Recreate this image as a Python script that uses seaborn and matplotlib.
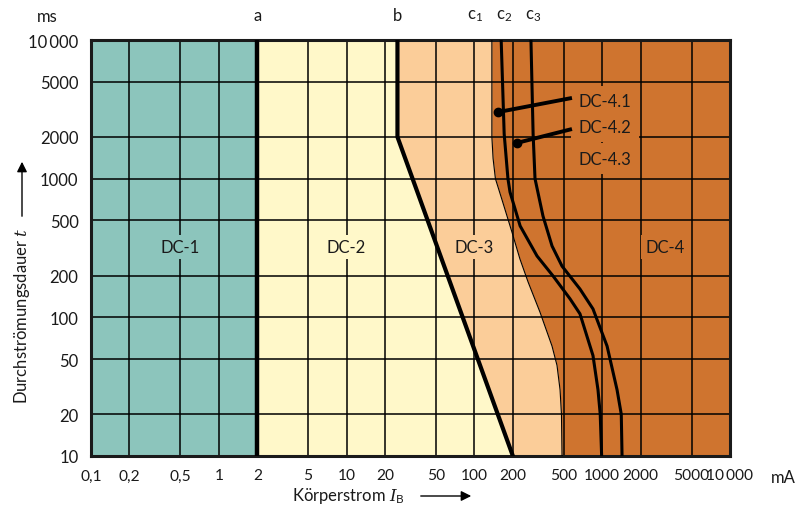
"""
Zeit-Strom-Bereiche für Gleichstrom (DC-1 bis DC-4), nachgezeichnet mit Seaborn.
"""
import matplotlib
matplotlib.use("Agg")
import matplotlib.pyplot as plt
import seaborn as sns

# Grenzkurven: Körperstrom in mA gegen Durchströmungsdauer in ms
grenze_a_mA = 2
kurve_b_mA = [25, 25, 200]
kurve_b_ms = [10000, 2000, 10]
kurve_c1_mA = [137, 137, 140, 146, 164, 197, 227, 263, 326, 405, 443, 468, 480, 485]
kurve_c1_ms = [10000, 2000, 1400, 1000, 710, 410, 264, 180, 109, 62, 45, 30, 20, 10]
kurve_c2_mA = [162, 171, 183, 190, 228, 309, 412, 560, 670, 847, 927, 965, 990]
kurve_c2_ms = [10000, 2100, 1000, 800, 456, 277, 199, 136, 106, 53, 30, 20, 10]
kurve_c3_mA = [277, 288, 298, 344, 405, 485, 670, 847, 1092, 1307, 1410, 1430]
kurve_c3_ms = [10000, 2100, 1000, 538, 327, 234, 160, 115, 62, 30, 20, 10]

x_ticks = [0.1, 0.2, 0.5, 1, 2, 5, 10, 20, 50, 100, 200, 500, 1000, 2000, 5000, 10000]
x_labels = ["0,1", "0,2", "0,5", "1", "2", "5", "10", "20", "50", "100", "200",
            "500", "1000", "2000", "5000", "10\u2009000"]
y_ticks = [10, 20, 50, 100, 200, 500, 1000, 2000, 5000, 10000]
y_labels = ["10", "20", "50", "100", "200", "500", "1000", "2000", "5000", "10\u2009000"]

# Bereichsnamen und ihre Lage im Diagramm
zonen_namen = ["DC-1", "DC-2", "DC-3", "DC-4"]
zonen_x = [0.5, 10, 100, 3100]
zonen_y = [320, 320, 320, 320]
unter_namen = ["DC-4.1", "DC-4.2", "DC-4.3"]
unter_x = [1050, 1050, 1050]
unter_y = [3630, 2360, 1390]
# Hinweislinien: Punkt auf der Kurve -> Beschriftung
hinweis_start = [(153, 3020), (215, 1810)]
hinweis_ende = [(580, 3820), (580, 2280)]

kurven_namen = ["a", "b", "c$_\\mathregular{1}$", "c$_\\mathregular{2}$", "c$_\\mathregular{3}$"]
kurven_label_x = [2, 25, 101, 171, 288]

farbe_dc1 = "#8cc5bc"
farbe_dc2 = "#fff8c9"
farbe_dc3 = "#fbcd99"
farbe_dc4 = "#cf742f"
schrift = "#1a1a1a"
fs = 12

sns.set_theme(style="white")
plt.rcParams["font.family"] = ["Lato", "DejaVu Sans"]
plt.rcParams["mathtext.fontset"] = "custom"
plt.rcParams["mathtext.it"] = "DejaVu Serif:italic"
plt.rcParams["mathtext.rm"] = "Lato"

fig = plt.figure(figsize=(8.08, 5.06), dpi=100)
ax = fig.add_axes([91 / 808, 1 - 457 / 506, (730 - 91) / 808, (457 - 41) / 506])
ax.set_xscale("log")
ax.set_yscale("log")
ax.set_xlim(0.1, 10000)
ax.set_ylim(10, 10000)

# Flächen von rechts nach links übereinander legen
ax.axvspan(0.1, 10000, color=farbe_dc4, zorder=0.1, lw=0)
ax.fill_betweenx(kurve_c1_ms, 0.1, kurve_c1_mA, color=farbe_dc3, zorder=0.2, lw=0)
ax.fill_betweenx(kurve_b_ms, 0.1, kurve_b_mA, color=farbe_dc2, zorder=0.3, lw=0)
ax.axvspan(0.1, grenze_a_mA, color=farbe_dc1, zorder=0.4, lw=0)

ax.set_xticks(x_ticks)
ax.set_xticklabels(x_labels)
ax.set_yticks(y_ticks)
ax.set_yticklabels(y_labels)
ax.minorticks_off()
ax.tick_params(length=0, labelsize=fs, colors=schrift)
ax.tick_params(axis="x", pad=9, labelsize=11.2)
ax.tick_params(axis="y", pad=9)
ax.grid(True, color="black", lw=1.1)
ax.set_axisbelow(True)
for s in ax.spines.values():
    s.set_visible(True)
    s.set_color(schrift)
    s.set_linewidth(2.2)

# Grenzkurven
ax.axvline(grenze_a_mA, color="black", lw=3.2, zorder=3)
sns.lineplot(x=kurve_b_mA, y=kurve_b_ms, sort=False, estimator=None, color="black", lw=3.0, ax=ax, zorder=3)
sns.lineplot(x=kurve_c1_mA, y=kurve_c1_ms, sort=False, estimator=None, color="black", lw=0.8, ax=ax, zorder=3)
sns.lineplot(x=kurve_c2_mA, y=kurve_c2_ms, sort=False, estimator=None, color="black", lw=2.2, ax=ax, zorder=3)
sns.lineplot(x=kurve_c3_mA, y=kurve_c3_ms, sort=False, estimator=None, color="black", lw=2.2, ax=ax, zorder=3)

# Bereichsbeschriftungen mit Hintergrund, damit das Gitter dort ausgespart ist
zonen_farben = [farbe_dc1, farbe_dc2, farbe_dc3, farbe_dc4]
for name, x, y, f in zip(zonen_namen, zonen_x, zonen_y, zonen_farben):
    ax.text(x, y, name, ha="center", va="center", fontsize=fs, color=schrift, zorder=4,
            bbox=dict(boxstyle="square,pad=0.25", fc=f, ec="none"))
for name, x, y in zip(unter_namen, unter_x, unter_y):
    ax.text(x, y, name, ha="center", va="center", fontsize=fs, color=schrift, zorder=4,
            bbox=dict(boxstyle="square,pad=0.45", fc=farbe_dc4, ec="none"))
for (x0, y0), (x1, y1) in zip(hinweis_start, hinweis_ende):
    ax.plot([x0, x1], [y0, y1], color="black", lw=2.8, zorder=5, solid_capstyle="butt")
    ax.plot([x0], [y0], "o", color="black", ms=6, zorder=5)

# Kurvenbezeichnungen über dem Diagramm
for name, x in zip(kurven_namen, kurven_label_x):
    ax.text(x, 1.04, name, transform=ax.get_xaxis_transform(), ha="center", va="bottom",
            fontsize=fs, color=schrift)

fig.text(47 / 808, 1 - 17 / 506, "ms", ha="center", va="center", fontsize=fs, color=schrift)
fig.text(783 / 808, 1 - 478 / 506, "mA", ha="center", va="center", fontsize=fs, color=schrift)

# Achsenbeschriftungen mit Pfeilen
fig.text(22 / 808, 1 - 316 / 506, "Durchströmungsdauer $t$", rotation=90, ha="center", va="center",
         fontsize=fs, color=schrift)
fig.text(348 / 808, 1 - 496 / 506, "Körperstrom $I_\\mathrm{B}$", ha="center", va="center",
         fontsize=fs, color=schrift)
fig.add_artist(matplotlib.patches.FancyArrowPatch(
    (22 / 808, 1 - 220 / 506), (22 / 808, 1 - 160 / 506), transform=fig.transFigure,
    arrowstyle="-|>,head_length=6,head_width=3", color="black", lw=1))
fig.add_artist(matplotlib.patches.FancyArrowPatch(
    (418 / 808, 1 - 497 / 506), (474 / 808, 1 - 497 / 506), transform=fig.transFigure,
    arrowstyle="-|>,head_length=6,head_width=3", color="black", lw=1))

fig.savefig("out.png", dpi=100)
plt.close(fig)
